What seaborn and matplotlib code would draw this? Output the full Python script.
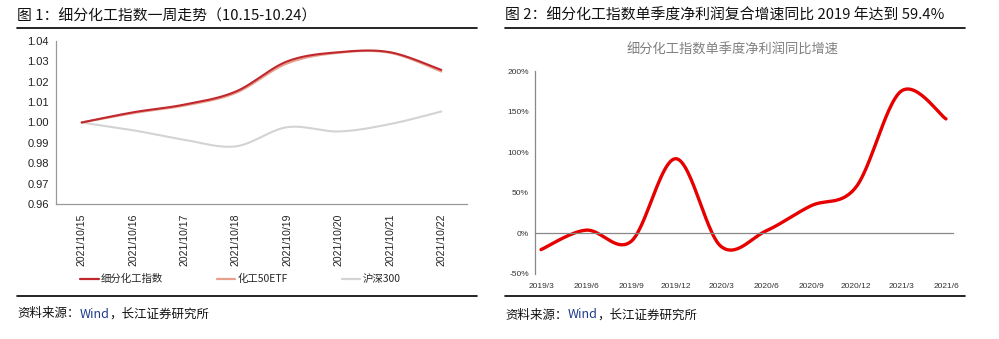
import numpy as np
import matplotlib
matplotlib.use("Agg")
import matplotlib.pyplot as plt
from matplotlib.lines import Line2D
import seaborn as sns

# ---------------- data ----------------
dates1 = ["2021/10/15", "2021/10/16", "2021/10/17", "2021/10/18",
          "2021/10/19", "2021/10/20", "2021/10/21", "2021/10/22"]
chem_index = [1.000, 1.0050, 1.0088, 1.0152, 1.0300, 1.0345, 1.0345, 1.0258]
chem_etf   = [1.000, 1.0046, 1.0083, 1.0145, 1.0290, 1.0342, 1.0342, 1.0250]
hs300      = [1.000, 0.9962, 0.9915, 0.9883, 0.9977, 0.9956, 0.9992, 1.0054]
series1_names = ["细分化工指数", "化工50ETF", "沪深300"]
yticks1 = [0.96, 0.97, 0.98, 0.99, 1.00, 1.01, 1.02, 1.03, 1.04]

quarters = ["2019/3", "2019/6", "2019/9", "2019/12", "2020/3",
            "2020/6", "2020/9", "2020/12", "2021/3", "2021/6"]
profit_yoy = [-20, 4, -10, 92, -16, 3, 34, 57, 175, 141]
yticks2 = [-50, 0, 50, 100, 150, 200]

title1 = "图 1：细分化工指数一周走势（10.15-10.24）"
title2 = "图 2：细分化工指数单季度净利润复合增速同比 2019 年达到 59.4%"
inner_title2 = "细分化工指数单季度净利润同比增速"
src_a, src_b, src_c = "资料来源：", "Wind", "，长江证券研究所"

# ---------------- style ----------------
sns.set_theme(style="white")
plt.rcParams["font.family"] = ["Noto Sans CJK SC", "DejaVu Sans"]
LAT = ["Liberation Sans", "Noto Sans CJK SC"]

W, H = 999, 339
fig = plt.figure(figsize=(W / 100, H / 100), dpi=100)


def fx(px):
    return px / W


def fy(py):
    return 1 - py / H


def smooth(xs, ys, n=30):
    """Excel-style smoothed line (Catmull-Rom / Bezier) through the data points."""
    xs = np.asarray(xs, float)
    ys = np.asarray(ys, float)
    P = np.column_stack([xs, ys])
    out = []
    for i in range(len(P) - 1):
        p0 = P[i - 1] if i > 0 else P[i]
        p1, p2 = P[i], P[i + 1]
        p3 = P[i + 2] if i + 2 < len(P) else P[i + 1]
        c1 = p1 + (p2 - p0) / 6
        c2 = p2 - (p3 - p1) / 6
        t = np.linspace(0, 1, n, endpoint=(i == len(P) - 2))[:, None]
        seg = ((1 - t) ** 3) * p1 + 3 * ((1 - t) ** 2) * t * c1 + 3 * (1 - t) * t ** 2 * c2 + t ** 3 * p2
        out.append(seg)
    out = np.vstack(out)
    return out[:, 0], out[:, 1]


# ---------------- left chart ----------------
ax1 = fig.add_axes([fx(56), fy(204), fx(467 - 56), (204 - 41) / H])
x1 = np.arange(len(dates1))
colors1 = ["#C0282E", "#E8A08C", "#D3D3D3"]
handles = []
for vals, name, c in [(hs300, series1_names[2], colors1[2]),
                      (chem_etf, series1_names[1], colors1[1]),
                      (chem_index, series1_names[0], colors1[0])]:
    sx, sy = smooth(x1, vals)
    sns.lineplot(x=sx, y=sy, ax=ax1, color=c, lw=1.5, sort=False, estimator=None)
for name, c in zip(series1_names, colors1):
    handles.append(Line2D([], [], color=c, lw=1.6, label=name))

ax1.set_xlim(-0.5, len(dates1) - 0.5)
ax1.set_ylim(0.96, 1.04)
ax1.set_yticks(yticks1)
ax1.set_yticklabels([f"{v:.2f}" for v in yticks1], fontsize=8, family=LAT, color="#222222")
ax1.set_xticks(np.arange(len(dates1) + 1) - 0.5)
ax1.set_xticklabels([])
ax1.set_xticks(x1, minor=True)
ax1.set_xticklabels(dates1, minor=True, rotation=90, fontsize=7.5, family=LAT, color="#222222")
ax1.tick_params(axis="x", which="major", length=3, direction="out", color="#999999", width=0.8)
ax1.tick_params(axis="x", which="minor", length=0, pad=7)
ax1.tick_params(axis="y", length=3, direction="out", color="#999999", width=0.8, pad=2)
for s in ["top", "right"]:
    ax1.spines[s].set_visible(False)
for s in ["left", "bottom"]:
    ax1.spines[s].set_color("#999999")
    ax1.spines[s].set_linewidth(0.9)
ax1.set_xlabel("")
ax1.set_ylabel("")
ax1.legend(handles=handles, loc="center left", bbox_to_anchor=(fx(80), fy(279)),
           bbox_transform=fig.transFigure, ncol=3, frameon=False, fontsize=7.5,
           handlelength=1.8, handletextpad=0.2, columnspacing=5.15, borderaxespad=0, borderpad=0)

# ---------------- right chart ----------------
ax2 = fig.add_axes([fx(535), fy(274), fx(953 - 535), (274 - 71) / H])
x2 = np.arange(len(quarters))
sx, sy = smooth(x2, profit_yoy)
sns.lineplot(x=sx, y=sy, ax=ax2, color="#E60000", lw=2.4, sort=False, estimator=None)
ax2.set_xlim(-0.133, 9.156)
ax2.set_ylim(-50, 200)
ax2.set_yticks(yticks2)
ax2.set_yticklabels([f"{v}%" for v in yticks2], fontsize=6, family=LAT, color="#333333")
ax2.tick_params(axis="y", length=2.5, direction="out", color="#888888", width=0.8, pad=2)
ax2.spines["bottom"].set_position(("data", 0))
ax2.set_xticks(x2 - 0.133)
ax2.set_xticklabels([])
ax2.set_xticks(x2, minor=True)
ax2.set_xticklabels(quarters, minor=True, fontsize=6, family=LAT, color="#333333")
ax2.tick_params(axis="x", which="major", length=3, direction="in", color="#888888", width=0.8)
ax2.tick_params(axis="x", which="minor", length=0, pad=36)
for s in ["top", "right"]:
    ax2.spines[s].set_visible(False)
for s in ["left", "bottom"]:
    ax2.spines[s].set_color("#888888")
    ax2.spines[s].set_linewidth(0.9)
ax2.set_xlabel("")
ax2.set_ylabel("")
fig.text(fx(733), fy(50), inner_title2, ha="center", va="center", fontsize=9.5, color="#7F7F7F")

# ---------------- titles, rules, source ----------------
fig.text(fx(17), fy(16), title1, ha="left", va="center", fontsize=10.7, color="#111111")
fig.text(fx(505), fy(16), title2, ha="left", va="center", fontsize=10.7, color="#111111")
for x0, x1_ in [(17, 477), (505, 965)]:
    for yy in (27.5, 296):
        fig.add_artist(Line2D([fx(x0), fx(x1_)], [fy(yy), fy(yy)], color="black", lw=1.2))

fig.canvas.draw()
renderer = fig.canvas.get_renderer()
for xs0, ys0 in [(17, 314), (505, 315)]:
    t1 = fig.text(fx(xs0), fy(ys0), src_a, ha="left", va="center", fontsize=9, color="#111111")
    bb = t1.get_window_extent(renderer)
    t2 = fig.text(bb.x1 / W, fy(ys0), src_b, ha="left", va="center", fontsize=9,
                  color="#1F3A8A", family=["Noto Sans CJK SC", "DejaVu Sans"])
    bb2 = t2.get_window_extent(renderer)
    fig.text(bb2.x1 / W, fy(ys0), src_c, ha="left", va="center", fontsize=9, color="#111111")

fig.savefig("out.png", dpi=100)
